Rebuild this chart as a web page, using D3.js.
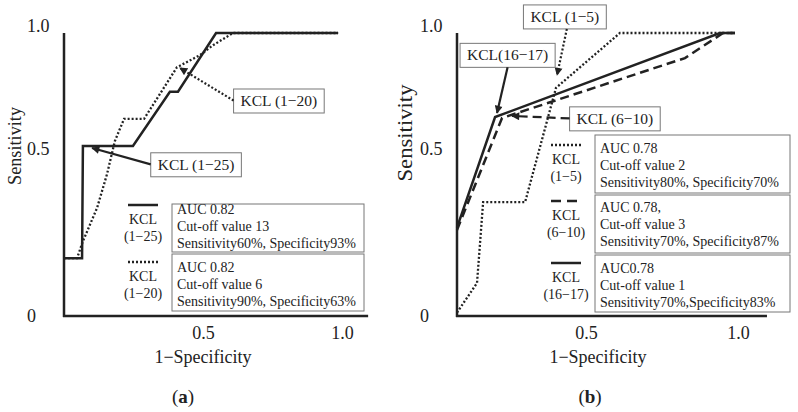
<!DOCTYPE html>
<html>
<head>
<meta charset="utf-8">
<script src="https://cdn.jsdelivr.net/npm/d3@7"></script>
<style>
  body { margin: 0; background: #fff; }
  text { font-family: "Liberation Serif", "Times New Roman", serif; fill: #222; }
</style>
</head>
<body>
<div id="graf"></div>
<script>
// ---- Datos ----
const yTicks = [0, 0.5, 1]
const xTicks = [0.5, 1]

// panel (a)
const a125Fpr  = [0, 0.065, 0.068, 0.248, 0.381, 0.41, 0.547, 0.986]
const a125Sens = [0.17, 0.17, 0.5, 0.5, 0.74, 0.74, 1, 1]
const a120Fpr  = [0, 0.047, 0.068, 0.076, 0.119, 0.155, 0.183, 0.216, 0.288, 0.406, 0.489, 0.536, 0.608, 0.986]
const a120Sens = [0.17, 0.17, 0.22, 0.235, 0.318, 0.418, 0.522, 0.62, 0.62, 0.848, 0.902, 0.946, 1, 1]
const aNames = ['(1−25)', '(1−20)']
const aInfo = [
  ['AUC 0.82', 'Cut-off value 13', 'Sensitivity60%, Specificity93%'],
  ['AUC 0.82', 'Cut-off value 6', 'Sensitivity90%, Specificity63%']
]

// panel (b)
const b15Fpr    = [0, 0.072, 0.094, 0.245, 0.356, 0.586, 0.993]
const b15Sens   = [0.01, 0.097, 0.335, 0.335, 0.757, 1, 1]
const b610Fpr   = [0, 0.162, 0.82, 0.957, 1.0]
const b610Sens  = [0.253, 0.624, 0.889, 1, 1]
const b1617Fpr  = [0, 0.137, 0.946, 1.0]
const b1617Sens = [0.26, 0.628, 1, 1]
const bNames = ['(1−5)', '(6−10)', '(16−17)']
const bInfo = [
  ['AUC 0.78', 'Cut-off value 2', 'Sensitivity80%, Specificity70%'],
  ['AUC 0.78,', 'Cut-off value 3', 'Sensitivity70%, Specificity87%'],
  ['AUC0.78', 'Cut-off value 1', 'Sensitivity70%,Specificity83%']
]

// ---- Area total ----
const ancho_total = 798
const alto_total = 412
const ink = '#222'
const dash = { solid: null, dotted: '2,2', dashed: '9,5' }

const svg = d3.select('#graf').append('svg')
  .attr('width', ancho_total)
  .attr('height', alto_total)

const defs = svg.append('defs')
defs.append('marker')
  .attr('id', 'flecha')
  .attr('viewBox', '0 0 10 10')
  .attr('refX', 9).attr('refY', 5)
  .attr('markerWidth', 9).attr('markerHeight', 8)
  .attr('markerUnits', 'userSpaceOnUse')
  .attr('orient', 'auto')
  .append('path').attr('d', 'M0,0 L10,5 L0,10 z').attr('fill', ink)

// escala vertical comun (la figura no es lineal entre 0 y 0.5)
const y = d3.scaleLinear().domain([0, 0.5, 1]).range([316, 146, 33])

function zip(fx, fy) { return fx.map((v, i) => ({ fpr: v, sens: fy[i] })) }

function panel(cfg) {
  const x = d3.scaleLinear().domain([0, 1]).range([cfg.x0, cfg.x0 + 278])
  const g = svg.append('g')

  // ejes
  g.append('line')
    .attr('x1', x(0)).attr('x2', x(0))
    .attr('y1', y(0) + 1).attr('y2', y(1))
    .attr('stroke', ink).attr('stroke-width', 2.5)
  g.append('line')
    .attr('x1', x(0) - 1).attr('x2', x(cfg.xEnd))
    .attr('y1', y(0)).attr('y2', y(0))
    .attr('stroke', ink).attr('stroke-width', 2.5)

  const yAxis = g.append('g')
    .attr('transform', `translate(${x(0)},0)`)
    .call(d3.axisLeft(y).tickValues(yTicks).tickSize(0)
      .tickFormat(d => d === 0 ? '0' : d.toFixed(1)))
  yAxis.select('.domain').remove()
  yAxis.selectAll('text')
    .attr('x', -37).attr('text-anchor', 'start')
    .attr('dy', d => d === 1 ? '-0.1em' : d === 0.5 ? '0.45em' : '0.3em')
    .style('font-size', '18px').style('font-family', null).attr('fill', ink)

  const xAxis = g.append('g')
    .attr('transform', `translate(0,${y(0)})`)
    .call(d3.axisBottom(x).tickValues(xTicks).tickSize(0).tickFormat(d3.format('.1f')))
  xAxis.select('.domain').remove()
  xAxis.selectAll('text')
    .attr('y', 17).attr('dy', '0.35em')
    .attr('dx', d => d === 0.5 ? cfg.dx05 : cfg.dx10)
    .style('font-size', '18px').style('font-family', null).attr('fill', ink)

  // titulos
  g.append('text')
    .attr('transform', `translate(${cfg.ylabX},${cfg.ylabY}) rotate(-90)`)
    .attr('text-anchor', 'middle').attr('dy', '0.35em')
    .attr('textLength', cfg.ylabLen).attr('lengthAdjust', 'spacingAndGlyphs')
    .style('font-size', cfg.ylabSize + 'px')
    .text('Sensitivity')
  g.append('text')
    .attr('x', cfg.xlabX).attr('y', 363)
    .attr('text-anchor', 'middle')
    .style('font-size', '18px')
    .text('1−Specificity')
  const tag = g.append('text')
    .attr('x', cfg.xlabX - cfg.tagShift).attr('y', 403)
    .attr('text-anchor', 'middle')
    .style('font-size', '19px')
  tag.append('tspan').text('(')
  tag.append('tspan').attr('font-weight', 'bold').text(cfg.tag)
  tag.append('tspan').text(')')

  // curvas
  const lineaGen = d3.line().x(d => x(d.fpr)).y(d => y(d.sens))
  cfg.series.forEach(s => {
    g.append('path')
      .attr('d', lineaGen(s.data))
      .attr('fill', 'none')
      .attr('stroke', ink)
      .attr('stroke-width', s.style === 'dotted' ? 2.3 : 2.5)
      .attr('stroke-dasharray', dash[s.style])
      .attr('stroke-linejoin', 'miter')
  })

  // anotaciones con flecha
  cfg.notes.forEach(n => {
    const t = g.append('text')
      .attr('x', x(n.bx)).attr('y', y(n.by))
      .attr('text-anchor', 'middle').attr('dy', '0.35em')
      .style('font-size', '15.5px')
      .text(n.label)
    const bb = t.node().getBBox()
    const padX = 7, padY = 3
    const rect = g.insert('rect', () => t.node())
      .attr('x', bb.x - padX).attr('y', bb.y - padY)
      .attr('width', bb.width + 2 * padX).attr('height', bb.height + 2 * padY)
      .attr('fill', '#fff').attr('stroke', '#777').attr('stroke-width', 1)
    let sx, sy
    if (n.from === 'left') { sx = bb.x - padX; sy = y(n.by) }
    else { sx = x(n.bx) + (n.off || 0); sy = bb.y + bb.height + padY }
    g.append('line')
      .attr('x1', sx).attr('y1', sy)
      .attr('x2', x(n.tx)).attr('y2', y(n.ty))
      .attr('stroke', ink).attr('stroke-width', 2.2)
      .attr('stroke-dasharray', dash[n.style])
      .attr('marker-end', 'url(#flecha)')
  })

  // leyenda
  cfg.legend.forEach((l, i) => {
    const s = cfg.series[l.serie]
    g.append('line')
      .attr('x1', l.cx - 15).attr('x2', l.cx + 15)
      .attr('y1', l.sy).attr('y2', l.sy)
      .attr('stroke', ink).attr('stroke-width', 2.5)
      .attr('stroke-dasharray', s.style === 'dashed' ? '10,6' : dash[s.style])
    g.append('text').attr('x', l.cx).attr('y', l.sy + 19)
      .attr('text-anchor', 'middle').style('font-size', '14px').text('KCL')
    g.append('text').attr('x', l.cx).attr('y', l.sy + 36)
      .attr('text-anchor', 'middle').style('font-size', '14px').text(cfg.names[i])
    g.append('rect')
      .attr('x', cfg.boxX).attr('y', l.top)
      .attr('width', cfg.boxW).attr('height', l.h)
      .attr('fill', '#fff').attr('stroke', '#777').attr('stroke-width', 1)
    cfg.info[i].forEach((txt, j) => {
      g.append('text')
        .attr('x', cfg.boxX + 5).attr('y', l.base + j * 17)
        .style('font-size', '14px').text(txt)
    })
  })
}

panel({
  x0: 64, xEnd: 1.094, dx05: 0, dx10: 0,
  ylabX: 15, ylabY: 146, ylabLen: 78, ylabSize: 18,
  xlabX: 203, tag: 'a', tagShift: 20,
  series: [
    { data: zip(a125Fpr, a125Sens), style: 'solid' },
    { data: zip(a120Fpr, a120Sens), style: 'dotted' }
  ],
  notes: [
    { label: 'KCL (1−20)', bx: 0.773, by: 0.701, tx: 0.417, ty: 0.845, from: 'left', style: 'dotted' },
    { label: 'KCL (1−25)', bx: 0.475, by: 0.446, tx: 0.101, ty: 0.494, from: 'left', style: 'solid' }
  ],
  names: aNames, info: aInfo,
  boxX: 172, boxW: 192,
  legend: [
    { serie: 0, cx: 143, sy: 205, top: 204, h: 48, base: 214 },
    { serie: 1, cx: 143, sy: 262, top: 254, h: 57, base: 272 }
  ]
})

panel({
  x0: 457, xEnd: 1.115, dx05: -10, dx10: 3,
  ylabX: 405, ylabY: 133, ylabLen: 97, ylabSize: 21,
  xlabX: 598, tag: 'b', tagShift: 8,
  series: [
    { data: zip(b15Fpr, b15Sens), style: 'dotted' },
    { data: zip(b610Fpr, b610Sens), style: 'dashed' },
    { data: zip(b1617Fpr, b1617Sens), style: 'solid' }
  ],
  notes: [
    { label: 'KCL (1−5)', bx: 0.388, by: 1.073, tx: 0.36, ty: 0.814, from: 'bottom', off: 2, style: 'dotted' },
    { label: 'KCL(16−17)', bx: 0.182, by: 0.903, tx: 0.144, ty: 0.646, from: 'bottom', style: 'solid' },
    { label: 'KCL (6−10)', bx: 0.568, by: 0.622, tx: 0.198, ty: 0.633, from: 'left', style: 'dashed' }
  ],
  names: bNames, info: bInfo,
  boxX: 595, boxW: 195,
  legend: [
    { serie: 0, cx: 566, sy: 145, top: 135, h: 58, base: 153 },
    { serie: 1, cx: 566, sy: 201, top: 195, h: 58, base: 212 },
    { serie: 2, cx: 566, sy: 263, top: 255, h: 57, base: 273 }
  ]
})
</script>
</body>
</html>
